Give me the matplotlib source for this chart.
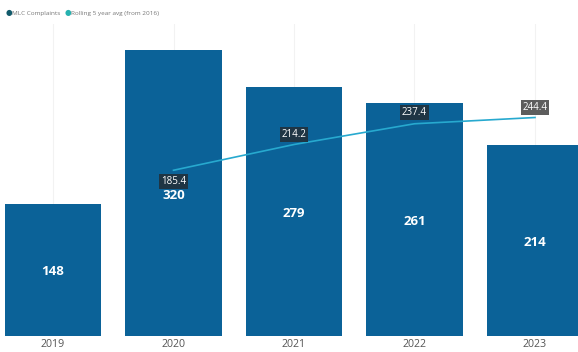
import matplotlib.pyplot as plt
import numpy as np

plt.rcParams['font.family'] = ['Open Sans', 'DejaVu Sans']

years = ['2019', '2020', '2021', '2022', '2023']
complaints = [148, 320, 279, 261, 214]
# rolling average starts at 2020
avg_years = ['2020', '2021', '2022', '2023']
rolling_avg = [185.4, 214.2, 237.4, 244.4]

bar_color = '#0b6298'
line_color = '#27a9cf'

fig = plt.figure(figsize=(5.78, 3.52), dpi=100)
ax = fig.add_axes([0, 16/352, 1, (336-24)/352])

x = np.arange(len(years))
ax.bar(x, complaints, width=0.8, color=bar_color, zorder=2)
for xi, v in zip(x, complaints):
    ax.annotate(str(v), (xi, v/2), xytext=(0, -1.5), textcoords='offset points',
                ha='center', va='center', color='white',
                fontsize=9.5, fontweight='bold', zorder=4)

xa = [years.index(y) for y in avg_years]
ax.plot(xa, rolling_avg, color=line_color, lw=1.2, zorder=3)

# value boxes for the rolling average
offs = [-8, 7, 8, 7]
box_cols = ['#1f3544', '#1f3544', '#1f3544', '#5d5d5d']
for xi, v, o, bc in zip(xa, rolling_avg, offs, box_cols):
    ax.annotate('%.1f' % v, (xi, v), xytext=(0, o), textcoords='offset points',
                ha='center', va='center', color='white', fontsize=7,
                bbox=dict(boxstyle='square,pad=0.2', fc=bc, ec='none'), zorder=5)

ax.set_xlim(-0.44, 4.357)
ax.set_ylim(0, (336-24)/0.894)
ax.set_xticks(x)
ax.set_xticklabels(years, fontsize=7.7, color='#555555')
ax.tick_params(axis='x', length=0, pad=2)
ax.set_yticks([])
ax.grid(axis='x', color='#f2f2f2', lw=0.8, zorder=0)
for s in ax.spines.values():
    s.set_visible(False)

# legend
fig.text(0.009, 0.962, '\u25cf', color='#125a6b', fontsize=5.5, va='center')
fig.text(0.020, 0.962, 'MLC Complaints', color='#777777', fontsize=4.6, va='center')
fig.text(0.111, 0.962, '\u25cf', color='#27b2b0', fontsize=5.5, va='center')
fig.text(0.122, 0.962, 'Rolling 5 year avg (from 2016)', color='#777777', fontsize=4.6, va='center')

plt.savefig('out.png', dpi=100)
